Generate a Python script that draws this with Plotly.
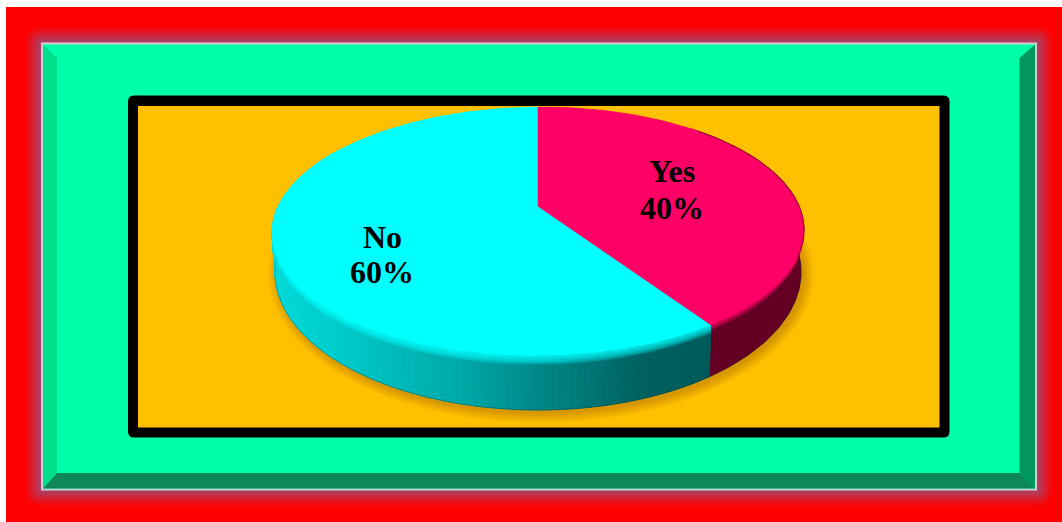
import math
import plotly.graph_objects as go

# Chart data
categories = ["Yes", "No"]
shares = [40, 60]

# Palette
TOP_COLORS = {"Yes": "#FF0066", "No": "#00FFFF"}
SIDE_YES = (100, 0, 36)
SIDE_NO_STOPS = [(0.0, (0, 90, 90)), (0.10, (0, 97, 97)), (0.22, (0, 135, 135)),
                 (0.32, (0, 170, 170)), (0.50, (0, 205, 205)), (0.78, (5, 228, 228)),
                 (1.0, (5, 232, 232))]

W, H = 1062, 522

# Disc geometry of the tilted pie: (centre x, centre y, radius x, radius y, perspective)
TOP_RIM = (538, 231.5, 266, 124.5, 0.203)
BOTTOM_RIM = (538, 272, 263, 138, 0.203)
LEAN = 0.006


def warp(theta):
    return theta + math.radians(4.25) * math.sin(theta)


def project(theta, rim, shear=0.0):
    cx, cy, rx, ry, k = rim
    t = warp(theta)
    u, v = math.sin(t), math.cos(t)
    d = 1 + k * v
    x = rx * math.sqrt(1 - k * k) * u / d
    y = cy - ry * k - ry * (1 - k * k) * v / d
    return cx + x, y - shear * x


def top_point(theta):
    return project(theta, TOP_RIM, LEAN)


def bottom_point(theta):
    return project(theta, BOTTOM_RIM)


def band_point(theta, f):
    a, b = top_point(theta), bottom_point(theta)
    return a[0] + (b[0] - a[0]) * f, a[1] + (b[1] - a[1]) * f


def lerp(c1, c2, f):
    return tuple(c1[i] + (c2[i] - c1[i]) * f for i in range(3))


def css(c):
    return "rgb(%d,%d,%d)" % tuple(round(v) for v in c)


def side_no_color(f):
    for (a, ca), (b, cb) in zip(SIDE_NO_STOPS, SIDE_NO_STOPS[1:]):
        if f <= b:
            return lerp(ca, cb, (f - a) / (b - a))
    return SIDE_NO_STOPS[-1][1]


def rounded(x0, y0, x1, y1, r):
    return (f"M{x0 + r},{y0} L{x1 - r},{y0} Q{x1},{y0} {x1},{y0 + r} L{x1},{y1 - r} "
            f"Q{x1},{y1} {x1 - r},{y1} L{x0 + r},{y1} Q{x0},{y1} {x0},{y1 - r} "
            f"L{x0},{y0 + r} Q{x0},{y0} {x0 + r},{y0} Z")


def poly(points):
    return "M" + " L".join(f"{x},{y}" for x, y in points) + " Z"


def path_shape(path, color):
    return dict(type="path", path=path, fillcolor=color, line=dict(width=0),
                xref="x", yref="y", layer="below")


shapes = []
# Red panel
shapes.append(dict(type="rect", x0=6, y0=7, x1=W, y1=H, fillcolor="#FF0000",
                   line=dict(width=0), xref="x", yref="y", layer="below"))

# Soft glow around the green plaque
for i in range(18, -1, -1):
    f = 1 - i / 18
    f = f ** 1.2
    shapes.append(path_shape(rounded(41 - i, 42.5 - i, 1037 + i, 490.5 + i, i + 1),
                             css(lerp((255, 0, 0), (165, 70, 112), f))))

# Plaque outline, face and bevels
shapes.append(path_shape(poly([(41, 42.5), (1037, 42.5), (1037, 490.5), (41, 490.5)]), "#CFCFCF"))
shapes.append(path_shape(poly([(43, 44.5), (1035, 44.5), (1035, 488.5), (43, 488.5)]), "#00FFAA"))
shapes.append(path_shape(poly([(43, 44.5), (57, 58), (57, 473), (43, 488.5)]), "#00DE8C"))
shapes.append(path_shape(poly([(1035, 44.5), (1019.5, 58), (1019.5, 473), (1035, 488.5)]), "#00965F"))
shapes.append(path_shape(poly([(43, 488.5), (57, 473), (1019.5, 473), (1035, 488.5)]), "#0E875A"))

# Black frame and orange plot area
shapes.append(path_shape(rounded(128, 95.5, 949.5, 437.5, 6), "#000000"))
shapes.append(path_shape(poly([(138, 106), (939.5, 106), (939.5, 427.5), (138, 427.5)]), "#FFC000"))

fig = go.Figure()


def add_fill(points, color, line_color=None, width=0):
    fig.add_trace(go.Scatter(
        x=[p[0] for p in points] + [points[0][0]],
        y=[p[1] for p in points] + [points[0][1]],
        mode="lines", fill="toself", fillcolor=color,
        line=dict(color=line_color or "rgba(0,0,0,0)", width=width),
        hoverinfo="skip", showlegend=False,
    ))


def add_line(points, color, width):
    fig.add_trace(go.Scatter(x=[p[0] for p in points], y=[p[1] for p in points], mode="lines",
                             line=dict(color=color, width=width),
                             hoverinfo="skip", showlegend=False))


def arc(a0, a1, fn, step=1.0):
    n = max(2, int(abs(math.degrees(a1 - a0)) / step))
    return [fn(a0 + (a1 - a0) * i / n) for i in range(n + 1)]


# Slice boundaries, clockwise from twelve o'clock
total = sum(shares)
angles = [0.0]
for s in shares:
    angles.append(angles[-1] + 2 * math.pi * s / total)
spans = dict(zip(categories, zip(angles, angles[1:])))

# Drop shadow on the plot area
for i in range(11, 0, -1):
    rim = (541, 274, 262 + i, 138 + i, 0.0)
    add_fill(arc(0, 2 * math.pi, lambda t: project(t, rim), 3), "rgba(120,70,0,0.03)")

# Outer wall of the Yes slice
y0, y1 = spans["Yes"]
add_fill(arc(math.radians(40), y1, top_point) + arc(y1, math.radians(40), bottom_point),
         css(SIDE_YES), css(SIDE_YES), 1)

# Outer wall of the No slice, shaded column by column
n0, n1 = spans["No"]
wall_end = math.radians(305)
columns = 130
for i in range(columns):
    a = n0 + (wall_end - n0) * i / columns
    b = n0 + (wall_end - n0) * (i + 1) / columns
    col = css(side_no_color((i + 0.5) / columns))
    add_fill([top_point(a), top_point(b), bottom_point(b), bottom_point(a)], col, col, 1)

# Darkened lower edge of the wall
add_line(arc(math.radians(60), wall_end, bottom_point), "rgba(0,40,40,0.3)", 1)

# Softened rim where the top face rolls over into the wall
rim_bands = {"Yes": (0.105, 0.08, 0.055, 0.03),
             "No": (0.16, 0.13, 0.1, 0.07, 0.04)}
for name, (a0, a1) in spans.items():
    r, g, b = (255, 0, 102) if name == "Yes" else (0, 255, 255)
    for f in rim_bands[name]:
        pts = arc(a0, a1, top_point) + arc(a1, a0, lambda t: band_point(t, f))
        add_fill(pts, f"rgba({r},{g},{b},0.25)")

# Top faces, drawn from the shares
apex = (TOP_RIM[0], TOP_RIM[1] - TOP_RIM[3] * TOP_RIM[4])
for name in categories[::-1]:
    a0, a1 = spans[name]
    add_fill([apex] + arc(a0, a1, top_point), TOP_COLORS[name], TOP_COLORS[name], 0.5)

# Dark lip along the far edge of the Yes slice
add_line(arc(math.radians(42), math.radians(110), top_point), "rgba(100,0,36,0.45)", 1.5)

# Labels, one line for the category and one for its share
label_pos = {"Yes": (672, 171, 208), "No": (382, 236.5, 272)}
annotations = []
for name, share in zip(categories, shares):
    x, y_name, y_share = label_pos[name]
    for text, y in ((name, y_name), (f"{share}%", y_share)):
        annotations.append(dict(x=x, y=y, xref="x", yref="y", text=f"<b>{text}</b>",
                                showarrow=False, xanchor="center", yanchor="middle",
                                font=dict(family="Liberation Serif", size=32, color="#000000")))

fig.update_layout(
    width=W, height=H,
    margin=dict(l=0, r=0, t=0, b=0),
    paper_bgcolor="#FFFFFF", plot_bgcolor="#FFFFFF",
    xaxis=dict(range=[0, W], visible=False, fixedrange=True),
    yaxis=dict(range=[H, 0], visible=False, fixedrange=True),
    shapes=shapes, annotations=annotations, showlegend=False,
)

fig.write_html("out.html", config={"displayModeBar": False})
